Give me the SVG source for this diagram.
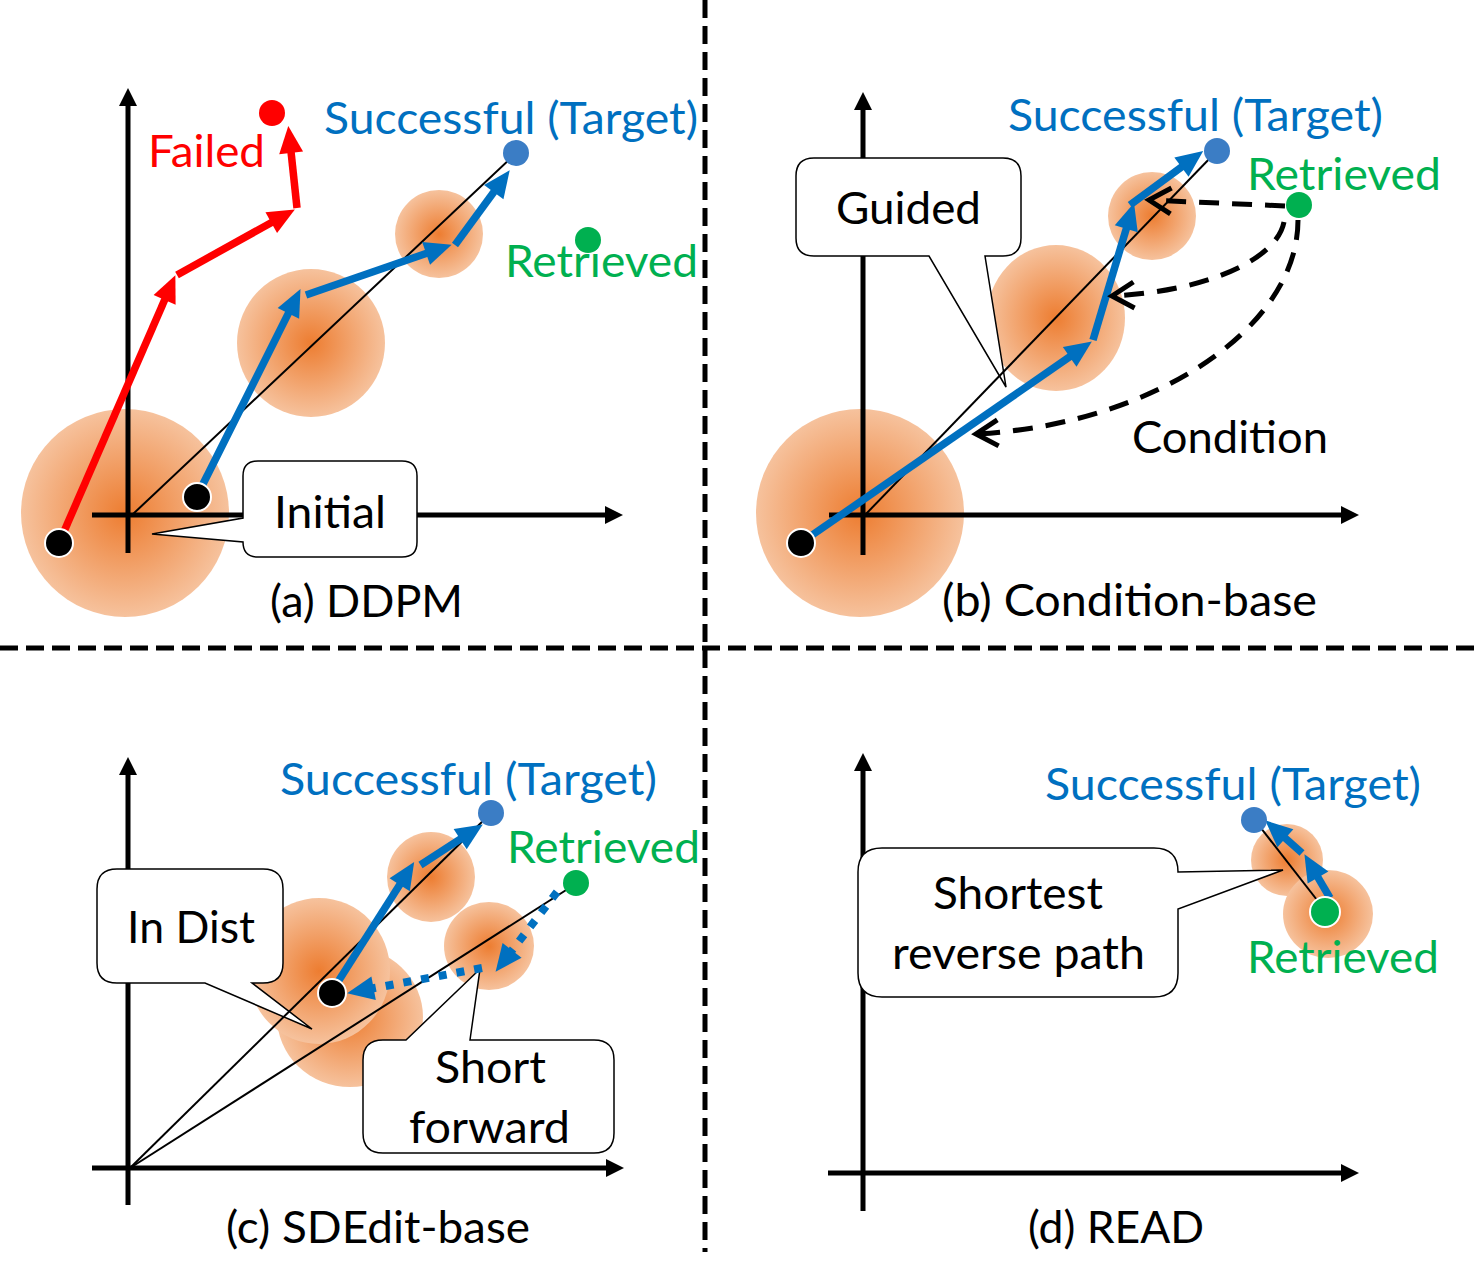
<svg xmlns="http://www.w3.org/2000/svg" width="1481" height="1286" viewBox="0 0 1481 1286">
<defs>
<radialGradient id="blob" cx="50%" cy="50%" r="50%">
<stop offset="0" stop-color="#ED7D31"/>
<stop offset="1" stop-color="#F6C29D"/>
</radialGradient>
<marker id="axHead" markerUnits="userSpaceOnUse" markerWidth="18" markerHeight="18" refX="2" refY="9" orient="auto" overflow="visible">
<path d="M0,0 L18,9 L0,18 Z" fill="#000"/>
</marker>
<marker id="bHead" markerUnits="userSpaceOnUse" markerWidth="27" markerHeight="24" refX="6" refY="12" orient="auto" overflow="visible">
<path d="M0,0 L27,12 L0,24 Z" fill="#0070C0"/>
</marker>
<marker id="rHead" markerUnits="userSpaceOnUse" markerWidth="27" markerHeight="24" refX="6" refY="12" orient="auto" overflow="visible">
<path d="M0,0 L27,12 L0,24 Z" fill="#FF0000"/>
</marker>
<marker id="chev" markerUnits="userSpaceOnUse" markerWidth="28" markerHeight="28" refX="24" refY="14" orient="auto" overflow="visible">
<path d="M2,1 L24,14 L2,27" fill="none" stroke="#000" stroke-width="5" stroke-dasharray="none"/>
</marker>
</defs>
<style>
.div{stroke:#000;stroke-width:5;stroke-dasharray:18 8;fill:none}
.axis{stroke:#000;stroke-width:5;fill:none;marker-end:url(#axHead)}
.thin{stroke:#000;stroke-width:2;fill:none}
.blue{stroke:#0070C0;stroke-width:7.5;fill:none;marker-end:url(#bHead)}
.dotted{stroke:#0070C0;stroke-width:8;stroke-dasharray:8 10;fill:none;marker-end:url(#bHead)}
.red{stroke:#FF0000;stroke-width:7.5;fill:none;marker-end:url(#rHead)}
.cond{stroke:#000;stroke-width:5;stroke-dasharray:20 13;fill:none;marker-end:url(#chev)}
.blob{fill:url(#blob)}
.dk{fill:#000;stroke:#fff;stroke-width:2}
.db{fill:#3B7DC5}
.dg{fill:#00B050}
.dr{fill:#FF0000}
.callout{fill:#fff;stroke:#000;stroke-width:1.5}
.t{font-family:Lato,"Open Sans","Liberation Sans",sans-serif;font-size:45px;fill:#000}
.tb{fill:#0070C0}
.tg{fill:#00B050}
.tr{fill:#FF0000}
</style>
<rect width="1481" height="1286" fill="#fff"/>

<g id="dividers">
<path class="div" d="M705,0 V1252"/>
<path class="div" d="M0,648 H1481"/>
</g>

<!-- Panel (a) -->
<g id="panel-a">
<g id="a-blobs">
<ellipse id="a-blob1" class="blob" cx="125" cy="513" rx="104" ry="104"/>
<ellipse id="a-blob2" class="blob" cx="311" cy="343" rx="74" ry="74"/>
<ellipse id="a-blob3" class="blob" cx="439" cy="234" rx="44" ry="44"/>
</g>
<g id="a-axes">
<path class="axis" d="M128,553 V104"/>
<path class="axis" d="M92,515 H607"/>
</g>
<g id="a-connectors">
<path class="thin" d="M132,515 L512,157"/>
<path class="red" d="M59,543 L167,294.4"/>
<path class="red" d="M177,275 L276.5,219.7"/>
<path class="red" d="M297,208 L290.5,146.9"/>
<path class="blue" d="M199,492 L291.1,307.9"/>
<path class="blue" d="M306,295 L431.8,251.5"/>
<path class="blue" d="M455,245 L497.3,187.2"/>
</g>
<g id="a-initial">
<path class="callout" d="M258,461 H402 Q417,461 417,476 V542 Q417,557 402,557 H258 Q243,557 243,542 L152,534 L243,518 V476 Q243,461 258,461 Z"/>
<text class="t" x="274" y="528" textLength="112" lengthAdjust="spacingAndGlyphs">Initial</text>
</g>
<g id="a-dots">
<circle id="a-failed" class="dr" cx="272" cy="113" r="13"/>
<circle id="a-target" class="db" cx="516" cy="153" r="13"/>
<circle id="a-retrieved" class="dg" cx="588" cy="240" r="13"/>
<circle id="a-start1" class="dk" cx="59" cy="543" r="14"/>
<circle id="a-start2" class="dk" cx="197" cy="497" r="14"/>
</g>
<g id="a-labels">
<text class="t tr" x="148" y="167" textLength="117" lengthAdjust="spacingAndGlyphs">Failed</text>
<text class="t tb" x="324" y="134" textLength="374" lengthAdjust="spacingAndGlyphs">Successful (Target)</text>
<text class="t tg" x="505" y="277" textLength="193" lengthAdjust="spacingAndGlyphs">Retrieved</text>
<text class="t" x="270" y="617" textLength="193" lengthAdjust="spacingAndGlyphs">(a) DDPM</text>
</g>
</g>

<!-- Panel (b) -->
<g id="panel-b">
<g id="b-blobs">
<ellipse id="b-blob1" class="blob" cx="860" cy="513" rx="104" ry="104"/>
<ellipse id="b-blob2" class="blob" cx="1056" cy="318" rx="69" ry="73"/>
<ellipse id="b-blob3" class="blob" cx="1152" cy="216" rx="44" ry="44"/>
</g>
<g id="b-axes">
<path class="axis" d="M863,555 V108"/>
<path class="axis" d="M829,515 H1343"/>
</g>
<g id="b-guided">
<path class="callout" d="M814,158 H1003 Q1021,158 1021,176 V238 Q1021,256 1003,256 H985 L1006,387 L929,256 H814 Q796,256 796,238 V176 Q796,158 814,158 Z"/>
<text class="t" x="836" y="224" textLength="145" lengthAdjust="spacingAndGlyphs">Guided</text>
</g>
<g id="b-connectors">
<path class="thin" d="M865,515 L1213,155"/>
<path class="blue" d="M805,540 L1074.6,353.4"/>
<path class="blue" d="M1093,340 L1128,223"/>
<path class="blue" d="M1130,205 L1186.3,163.5"/>
<path class="cond" d="M1285,206 L1149,200"/>
<path class="cond" d="M1284,222 C1276,262 1200,292 1112,296"/>
<path class="cond" d="M1298,220 C1298,330 1150,425 976,434"/>
</g>
<g id="b-dots">
<circle id="b-target" class="db" cx="1217" cy="151" r="13"/>
<circle id="b-retrieved" class="dg" cx="1299" cy="205" r="13"/>
<circle id="b-start" class="dk" cx="801" cy="543" r="14"/>
</g>
<g id="b-labels">
<text class="t tb" x="1008" y="131" textLength="375" lengthAdjust="spacingAndGlyphs">Successful (Target)</text>
<text class="t tg" x="1247" y="190" textLength="194" lengthAdjust="spacingAndGlyphs">Retrieved</text>
<text class="t" x="1132" y="453" textLength="196" lengthAdjust="spacingAndGlyphs">Condition</text>
<text class="t" x="942" y="616" textLength="375" lengthAdjust="spacingAndGlyphs">(b) Condition-base</text>
</g>
</g>

<!-- Panel (c) -->
<g id="panel-c">
<g id="c-blobs">
<ellipse id="c-blob2" class="blob" cx="350" cy="1017" rx="73" ry="70"/>
<ellipse id="c-blob1" class="blob" cx="319" cy="971" rx="71" ry="73"/>
<ellipse id="c-blob3" class="blob" cx="431" cy="877" rx="44" ry="45"/>
<ellipse id="c-blob4" class="blob" cx="489" cy="946" rx="45" ry="44"/>
</g>
<g id="c-axes">
<path class="axis" d="M128,1205 V773"/>
<path class="axis" d="M92,1168 H608"/>
</g>
<g id="c-indist">
<path class="callout" d="M117,869 H263 Q283,869 283,889 V963 Q283,983 263,983 H252 L312,1029 L205,983 H117 Q97,983 97,963 V889 Q97,869 117,869 Z"/>
<text class="t" x="127" y="943" textLength="128" lengthAdjust="spacingAndGlyphs">In Dist</text>
</g>
<g id="c-shortforward">
<path class="callout" d="M383,1040 H406 L480,969 L470,1040 H594 Q614,1040 614,1060 V1133 Q614,1153 594,1153 H383 Q363,1153 363,1133 V1060 Q363,1040 383,1040 Z"/>
<text class="t" x="435" y="1083" textLength="111" lengthAdjust="spacingAndGlyphs">Short</text>
<text class="t" x="409" y="1143" textLength="161" lengthAdjust="spacingAndGlyphs">forward</text>
</g>
<g id="c-connectors">
<path class="thin" d="M130,1168 L488,816"/>
<path class="thin" d="M130,1168 L574,885"/>
<path class="blue" d="M334,988 L402.9,879.7"/>
<path class="blue" d="M420.5,865 L465.2,835.9"/>
<path class="dotted" d="M557,892 L508.4,955.1"/>
<path class="dotted" d="M482,968 L367.7,989.3"/>
</g>
<g id="c-dots">
<circle id="c-target" class="db" cx="491" cy="813" r="13"/>
<circle id="c-retrieved" class="dg" cx="576" cy="883" r="13"/>
<circle id="c-noised" class="dk" cx="332" cy="993" r="14"/>
</g>
<g id="c-labels">
<text class="t tb" x="280" y="795" textLength="377" lengthAdjust="spacingAndGlyphs">Successful (Target)</text>
<text class="t tg" x="507" y="863" textLength="193" lengthAdjust="spacingAndGlyphs">Retrieved</text>
<text class="t" x="226" y="1243" textLength="304" lengthAdjust="spacingAndGlyphs">(c) SDEdit-base</text>
</g>
</g>

<!-- Panel (d) -->
<g id="panel-d">
<g id="d-axes">
<path class="axis" d="M863,1211 V769"/>
<path class="axis" d="M828,1173 H1343"/>
</g>
<g id="d-blobs">
<ellipse id="d-blob1" class="blob" cx="1287" cy="860" rx="36" ry="36"/>
<ellipse id="d-blob2" class="blob" cx="1328" cy="914" rx="45" ry="44"/>
</g>
<g id="d-shortest">
<path class="callout" d="M882,848 H1154 Q1178,848 1178,872 L1283,870 L1178,909 V973 Q1178,997 1154,997 H882 Q858,997 858,973 V872 Q858,848 882,848 Z"/>
<text class="t" x="933" y="909" textLength="170" lengthAdjust="spacingAndGlyphs">Shortest</text>
<text class="t" x="892" y="969" textLength="253" lengthAdjust="spacingAndGlyphs">reverse path</text>
</g>
<g id="d-connectors">
<path class="thin" d="M1317,900 L1257,823"/>
<path class="blue" d="M1330,898 L1315,872.3"/>
<path class="blue" d="M1302,853 L1280.9,834.3"/>
</g>
<g id="d-dots">
<circle id="d-target" class="db" cx="1254" cy="820" r="13"/>
<circle id="d-retrieved" class="dk" style="fill:#00B050" cx="1325" cy="912" r="15"/>
</g>
<g id="d-labels">
<text class="t tb" x="1045" y="800" textLength="376" lengthAdjust="spacingAndGlyphs">Successful (Target)</text>
<text class="t tg" x="1247" y="973" textLength="192" lengthAdjust="spacingAndGlyphs">Retrieved</text>
<text class="t" x="1028" y="1243" textLength="176" lengthAdjust="spacingAndGlyphs">(d) READ</text>
</g>
</g>
</svg>
